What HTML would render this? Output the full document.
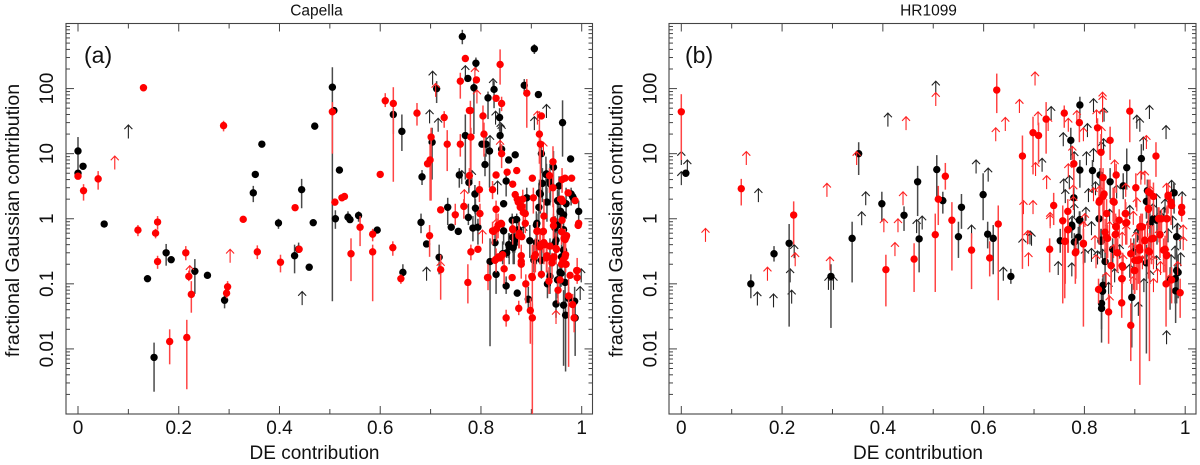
<!DOCTYPE html>
<html lang="en">
<head>
<meta charset="utf-8">
<title>DE contribution vs fractional Gaussian contribution</title>
<style>
html,body{margin:0;padding:0;background:#fff;}
svg{display:block;font-family:"Liberation Sans",Arial,sans-serif;}
</style>
</head>
<body>
<svg id="chart" xmlns="http://www.w3.org/2000/svg" width="1200" height="465" viewBox="0 0 1200 465"></svg>
<script>
const xTickValues = [0, 0.2, 0.4, 0.6, 0.8, 1];
const xTickLabels = ['0', '0.2', '0.4', '0.6', '0.8', '1'];
const xMinorValues = [0.1, 0.3, 0.5, 0.7, 0.9];
const yTickValues = [0.01, 0.1, 1, 10, 100];
const yTickLabels = ['0.01', '0.1', '1', '10', '100'];
const yDecades = [0.001, 0.01, 0.1, 1, 10, 100];
const yMinorMultipliers = [2, 3, 4, 5, 6, 7, 8, 9];

// each point: [DE contribution, fractional Gaussian contribution, lower error, upper error]
const capellaBlackPoints = [
[0,11,5.6,18],[0,5],[.01,6.4],[.052,.83],[.138,.12],[.175,.3,.19,.41],[.185,.235],[.151,.0074,.0022,.0125],
[.232,.156,.07,.24],[.257,.135],[.291,.056,.042,.07],[.348,2.5,1.8,3.2],[.352,4.8],[.365,14],[.398,.86,.7,1],
[.43,.27,.145,.4],[.438,.34,.3,.43],[.444,2.8,1.45,4.1],[.459,.18],[.467,.87],[.47,26.5],
[.505,105,.054,213],[.508,46],[.519,5.6],[.511,1,.7,1.35],[.536,1.06,.9,1.3],[.54,.97],[.557,1.12,.9,1.3],[.594,.67],
[.626,40,20,50],[.643,22,11,40],[.683,4.4,3.3,5.6],[.681,.88,.6,1.2],[.712,100,60,130],[.703,15,4,25],
[.734,1.5,.8,2.1],[.741,.74],[.755,.64],[.763,630,480,800],[.769,19,4,40],[.775,1.05,.8,1.7],[.757,4.7,3,6],
[.776,3.6,2.5,4.5],[.774,143],[.79,245,190,300],[.786,103,20,130],[.788,2.4,1.2,3.3],[.789,1.45,.7,2],[.784,.72,.45,1.1],[.794,.74,.4,1],
[.826,97,50,130],[.814,72,34,90],[.837,36,22,50],[.838,19,12,30],[.802,14],[.81,14,9,19],[.817,11,3,15],[.808,6.8,4.5,10],
[.841,11.7],[.855,8],[.868,9.6],[.85,3.8,2.2,5],[.845,1.7],[.862,.95,.7,1.2],[.871,.97,.7,1.2],[.886,112,85,140],[.906,410,340,480],
[.914,81],[.962,30,9,66],[.978,8.3],[.92,10,5,14],[.944,6.2,3,11],[.929,4.8,2,9],[.918,2.4,1.2,4],[.922,3.5,1.8,6],[.937,3.8,1.6,7],
[.955,3.2,2,4.5],[.979,2.4,1.6,3],[.982,2.2],[.952,1.9,1.1,2.8],[.969,1.7,1,3],[.958,1.3,.7,2.2],[.994,1.3,.9,1.9],[.931,1.8,.9,3],[.915,1.5,.8,3.5],[.891,2.1,1.3,3],
[.717,.256,.14,.4],[.645,.15,.12,.2],[.692,.41],[.818,.22,.011,.5],[.83,.14,.07,.25],[.828,.43,.25,.6],[.845,.65,.4,.9],[.843,.29,.2,.45],[.851,.3,.25,.4],
[.855,.4,.25,.6],[.866,.41,.2,.7],[.863,.52,.3,.8],[.85,.093,.07,.13],[.872,.072],[.894,.058,.04,.09],[.91,.43,.2,.7],[.911,.85,.5,1.2],
[.92,.23,.12,.35],[.905,.23,.15,.45],[.932,.1,.06,.16],[.937,.13,.07,.5],[.949,.47,.2,.8],[.952,.8,.4,1.4],[.952,.115,.06,.2],[.967,.105,.05,.2],[.959,.145,.09,.22],
[.949,.049,.03,.08],[.964,.047,.0055,.08],[.968,.033,.0045,.06],[.986,.054,.02,.09],[.987,.03,.0078,.05],[.974,.06,.03,.09],
[.954,1.85,1.2,2.6],[.983,2.1],[.93,4.9,2.5,7],[.938,3.4,1.8,5],[.916,2.5,1.4,4],[.957,1.3,.8,2],[.964,1.15],[.947,.72,.4,1.1],[.964,.68,.4,1],[.87,.97],[.875,.68,.4,1],[.867,.46,.3,.7],[.856,.37,.2,.6],[.864,.36,.2,.55],[.897,.46,.25,.8],[.91,.8,.5,1.3],[.924,.42,.25,.7],[.947,.42,.25,.65],[.964,.33,.2,.5],[.957,.15,.08,.25],[.96,.26,.15,.4]
];
const capellaRedPoints = [
[0,4.5],[.04,4.1,2.8,5.4],[.011,2.7,1.9,3.4],[.13,103],[.289,27,22,32],[.119,.67,.54,.8],[.158,.89,.68,1.1],[.154,.6,.5,.7],
[.158,.22,.17,.27],[.214,.3,.23,.38],[.22,.13,.11,.16],[.225,.069,.036,.11],[.297,.09,.07,.11],[.295,.072,.06,.09],[.182,.013,.0058,.02],[.216,.015,.0024,.028],
[.328,.98],[.356,.31,.24,.39],[.402,.215,.15,.28],[.431,1.48],[.439,.34],
[.505,44,10,62],[.51,1.8],[.524,2.1],[.529,2.2],[.56,.74,.38,1.1],[.585,.58,.45,.7],[.542,.29,.11,.5],[.585,.31,.054,.4],[.625,.36,.27,.45],[.641,.12,.1,.14],
[.698,.55,.26,.8],[.72,.165,.057,.28],[.774,.105,.05,.2],[.78,.31,.23,.4],[.794,.34],[.814,.125,.08,.2],[.83,.24,.15,.35],[.823,.65,.4,.9],[.831,.7,.45,1],[.84,.85],
[.835,.26],[.843,.28],[.846,.17,.1,.25],[.85,.03,.022,.04],[.875,.042,.033,.055],[.898,.039,.012,.06],[.902,.03,.001,.05],[.902,.125,.0115,.4],[.889,.1,.05,.14],
[.88,.27,.18,.4],[.88,.22],[.876,.6,.35,.9],[.863,.7],[.912,.65,.3,.9],[.923,.63,.3,1],[.908,.28,.15,.5],[.918,.4,.2,.7],[.925,.43,.2,.7],[.937,.38],[.949,.35,.2,.6],
[.931,.27,.15,.4],[.945,.26],[.941,.21,.12,.3],[.92,.14],[.935,.11,.07,.18],[.965,.5,.3,.7],[.97,.55],[.968,.28,.15,.45],[.963,.23],[.969,.2],[.953,.08,.05,.12],[.957,.115],
[.977,.135],[.991,.16,.1,.25],[.991,.125],[.974,.065,.0053,.12],[.982,.048,.03,.07],[.985,.03,.018,.05],[.994,.85],
[.769,290],[.838,235,115,400],[.759,130,70,175],[.791,136],[.83,71],[.841,59,45,75],[.891,85,25,140],[.777,46],[.779,46,5,65],[.804,38,19,55],[.806,20,9,30],[.78,18,5,25],
[.916,20,7,45],[.918,14,1.3,20],[.92,38],[.841,10,6,14],[.759,14,9,20],[.733,14,5.4,23],[.727,36,25,45],[.701,18,1.9,25],[.699,8,1.9,14],[.694,7],[.673,42,27,60],[.61,65,52,85],[.626,59,3.7,105],[.6,4.8],
[.777,4.6,3,6],[.83,4.7],[.852,5.2],[.871,5.5],[.797,2.8,1.8,3.8],[.823,2.8,2,3.8],[.766,1.55,1,2],[.798,1.2,.8,1.7],[.83,1.4,.9,1.9],[.749,1.15,.8,1.7],[.72,1.37],
[.863,3.4],[.868,2.35],[.883,2,1.3,2.8],[.874,1.8],[.878,1.5],[.884,1.25,.8,1.9],[.902,4.2],[.904,2.1,1.2,3],[.943,7.5,3.5,13],[.943,3,1.5,5],[.936,4.6,2.5,6],[.961,4,2.5,6],[.967,4.2],
[.98,4.2],[.973,2.5],[.958,2],[.962,1.85],[.987,1.9],[.925,1.1,.7,2],[.944,.95,.5,1.7],[.961,.95],[.888,.85,.6,1.3],[.863,.68,.4,1],[.841,.83],[.911,.64],[.924,.64],[.969,.52],
[.872,2],[.881,1.55],[.888,1.2,.8,1.7],[.96,2],[.944,.78,.5,1.2],[.96,.63,.4,1],[.967,.48,.3,.7],[.993,.79],[.875,.55,.35,.8],[.881,.53],[.834,.8,.5,1.2],[.825,.64],[.917,.37,.2,.6],[.95,.34],[.927,.4],[.906,.26,.12,.4],[.943,.25],[.967,.26],[.93,.25,.15,.4],[.828,.23],[.838,.25],[.96,.2],[.967,.2],[.99,.16],[.813,.125],[.862,.125],[.901,.13],[.88,.2,.12,.3]
];
const capellaBlackArrows = [
[.1,27.6],[.445,.076],[.704,185],[.698,47],[.715,35],[.769,225],[.824,142],[.829,45],[.839,30],[.841,28],[.818,19],[.906,37],[.93,57],[.762,5.5],[.782,5.5],[.833,3.8],[.692,.18],[.997,.091],[.999,.17],[.884,.76]
];
const capellaRedArrows = [
[.073,9.2],[.302,.34],[.222,.19],[.71,120],[.788,210],[.792,95],[.838,16],[.912,45],[.924,15],[.767,2.8],[.72,.22],[.803,.67],[.831,1],[.949,.039]
];

const hrBlackPoints = [
[.009,5],[.138,.1,.06,.14],[.184,.29,.22,.38],[.214,.42,.022,.83],[.297,.13,.021,.2],[.339,.5,.105,.9],[.352,10,4.7,15],[.398,1.7,.9,2.6],[.442,1.13,.65,1.55],[.469,3.7,1.1,6.5],[.472,.49,.15,.9],
[.507,5.7,1.9,9.5],[.519,1.9,1.2,2.6],[.556,1.5,.7,2.4],[.599,2.35,.95,5],[.55,.53,.25,.9],[.608,.58,.35,.9],[.619,.5,.14,.8],[.791,56,35,75],[.773,16,8,25],[.791,5.6,3,8],[.816,5.5,2.5,8],
[.779,2.1,1.4,3],[.831,4.7,2.2,6],[.851,3.7,2,6],[.884,6.1,2.8,12],[.913,8.4,4,14],[.877,3.2,2,5],[.925,2.7,1.3,4],[.923,1.85,1,3],[.978,2.5,1.2,3.6],[.937,1,.5,1.6],[.791,.97,.5,1.3],[.829,1,.5,1.6],[.775,.75,.5,1.1],
[.654,.13,.1,.17],[.752,.46,.3,.7],[.775,.8,.5,1.1],[.788,.52,.3,.75],[.78,.44,.3,.6],[.833,.47,.3,.7],[.856,.34,.2,.5],[.841,.22,.1,.35],[.836,.077,.05,.12],[.834,.05,.0125,.09],[.894,.062,.0105,.1],
[.923,.21,.0085,.4],[.93,.85,.3,1.4],[.983,.53,.25,.8],[.983,.16,.05,.3],[.986,.15,.06,.28],[.981,.078,.025,.14],[.97,.115,.04,.18],[.944,.95,.4,1.5],[.898,.31,.1,.5],
[.79,.95,.6,1.3],[.833,.45,.25,.7],[.937,1,.5,1.5],[.977,2.5,1.4,3.5],[.98,.12,.05,.2],[.837,.095,.05,.14],[.834,.042,.02,.07]
];
const hrRedPoints = [
[0,44,8,82],[.119,2.9,1.6,4.1],[.223,1.14,.4,1.85],[.406,.165,.045,.28],[.462,.24,.075,.42],
[.626,95,42,170],[.724,34,10,62],[.698,21,4.8,37],[.709,19,7,30],[.677,9.2,.17,19],[.76,42,25,55],[.79,30,15,40],[.826,25,10,35],[.779,7,3,10],[.833,10.5,2,20],[.851,16,8,26],[.89,45,15,68],[.942,9.2,4.4,15],
[.524,4.5,2.8,7.2],[.51,2,.8,3.2],[.537,.95,.16,1.8],[.504,.57,.075,1.2],[.629,.83,.056,1.6],[.739,1.6,.8,2.5],[.767,1.3,.4,2],[.757,.93,.05,1.6],[.837,4.3,1.3,6],[.863,4.7,2.5,7],[.902,3,1.5,5],[.93,2.5,1.2,4],[.937,2.2,1.1,3.6],
[.966,2.3,1.2,3.5],[.993,1.5,.9,2.2],[.972,1.8,.8,2.6],[.953,1,.5,1.4],[.964,1,.5,1.6],[.829,1.8,.4,3],[.837,2.2,.4,3.5],[.859,1.8,.8,3],[.844,1.2,.4,2],[.882,1.2,.7,1.8],[.869,.95,.5,1.4],[.91,.75,.3,1.1],[.927,1.4,.7,2.5],[.947,1,.5,1.5],[.863,.75,.4,1.1],[.882,.86,.4,1.2],[.768,.68,.3,1],
[.576,.33,.083,.6],[.612,.25,.13,.45],[.731,.34,.15,.5],[.761,.45,.06,.7],[.782,.3,.1,.45],[.798,.41,.022,.7],[.828,.082,.05,.12],[.848,.037,.012,.07],[.874,.051,.03,.08],[.874,.12,.06,.2],[.876,.18,.1,.3],[.892,.023,.0065,.05],[.853,.19,.08,.3],[.865,.3,.15,.5],
[.844,.52,.2,.8],[.862,.58,.3,.9],[.892,.29,.1,.5],[.904,.23,.08,.4],[.909,.235,.1,.4],[.9,.16,.07,.3],[.91,.33,.0028,.6],[.915,.75,.3,1.2],[.929,.31,.0065,.6],[.92,.47,.2,.8],[.933,.49,.2,.8],[.95,.57,.3,.9],[.96,.34,.15,.55],[.963,.28,.12,.5],[.962,.1,.022,.2],[.973,.115,.05,.18],[.99,.073,.03,.12],[.884,.87,.4,1.3],
[.767,.68,.3,1],[.762,.45,.1,.7],[.783,.31,.12,.5],[.798,.42,.2,.7],[.857,1.85,.9,3],[.881,1.2,.6,2],[.862,.76,.4,1.2],[.841,.62,.3,1],[.846,.5,.25,.8],[.861,.57,.3,.9],[.866,.3,.15,.5],[.912,.76,.4,1.2],[.927,2.6,1.3,4],[.927,1.45,.7,2.2],[.948,1,.5,1.5],[.963,1,.5,1.5],[.95,.57,.25,.9],[.937,.5,.2,.8],[.92,.46,.2,.8],[.909,.36,.15,.6],[.927,.32,.12,.5],[.957,.33,.15,.5],[.963,.27,.12,.45],[.9,.23,.1,.4],[.907,.23,.1,.4],[.875,.19,.08,.3],[.899,.16,.07,.25],[.875,.12,.05,.2],[.853,.19,.07,.3],[.83,1.9,1,3],[.839,2.4,1.2,4],[.966,2.2],[.973,1.6],[.993,1.25]
];
const hrBlackArrows = [
[0,10.8],[0,5.3],[.012,8],[.153,2.9],[.151,.075],[.183,.07],[.219,.08],[.216,.17],[.224,.4],[.292,.13],[.302,.13],[.358,1.28],[.366,2.6],[.41,42],[.467,.97],
[.505,130],[.585,8],[.609,6],[.716,8.5],[.734,53],[.758,21],[.759,4.1],[.762,2.8],[.78,10.7],[.806,29],[.818,70],[.804,10.7],[.818,12],[.839,50],[.834,15],[.838,17],[.904,39],[.91,35],[.929,55],[.962,27],[.917,18],[.973,3.9],[.994,2.6],[.96,2],[.943,2.4],[.822,3.7],[.808,2.9],[.803,1.5],[.776,1.1],[.576,.8],[.478,1.1],[.864,3.3],[.958,1.5],[.966,.7],[.814,.9],[.907,.75],[.692,.65],
[.639,.18],[.677,.5],[.695,.62],[.748,.22],[.775,.21],[.801,.34],[.814,.35],[.836,.34],[.848,.105],[.907,.052],[.918,.12],[.963,.019],[.943,.27],[.98,.38],[.991,.3],[.905,.7],[.87,.4],[.923,.28],
[.77,4.6],[.78,1.7],[.85,1.4],[.865,1],[.89,1.6],[.936,1.7],[.95,1.3],[.975,1.1],[.985,.85],[.99,.55],[.972,.28],[.93,.16],[.89,.2],[.86,.17],[.826,.32]
];
const hrRedArrows = [
[.048,.71],[.129,10.8],[.171,.18],[.226,.3],[.289,3.5],[.295,.26],[.348,10.8],[.402,1],[.43,1],[.424,.43],[.44,2.6],[.446,37],
[.505,87],[.702,180],[.671,68],[.643,36],[.624,25],[.708,44],[.728,36],[.703,7.3],[.725,4.6],[.785,46],[.768,35],[.824,47],[.836,88],[.836,78],[.836,49],[.798,25],[.834,26],[.923,19],[.776,13],[.768,7],[.778,3.3],[.86,8],[.818,3],[.698,1.9],[.679,1.9],[.732,1.25],[.688,.66],
[.882,3.5],[.912,5.4],[.92,5.4],[.963,3.5],[.904,2.1],[.93,3.2],[.897,1.3],[.883,.8],[.801,1.2],[.689,.3],[.687,.65],[.798,.9],[.843,.15],[.85,.065],[.937,.12],[.996,.8],[.996,.53],[.821,.55],[.902,.62],[.877,.28],[.823,.28],[.897,.13],[.937,.27],[.951,.22],[.96,.38],[.858,.4],
[.732,1.15],[.778,2.2],[.83,3.2],[.85,.9],[.875,.62],[.895,.42],[.915,.27],[.945,.17],[.97,.14],[.985,.22],[.948,.7],[.925,.85]
];

const NS = 'http://www.w3.org/2000/svg';
const root = document.getElementById('chart');

function make(parent, tag, attrs) {
  const el = document.createElementNS(NS, tag);
  for (const k in attrs) el.setAttribute(k, attrs[k]);
  parent.appendChild(el);
  return el;
}

function drawPanel(opts) {
  const g = make(root, 'g', {});
  
  

  const left = opts.left, right = opts.right, top = 23.5, bottom = 414;
  const xScale = v => opts.x0 + v * opts.xUnit;
  const yScale = v => bottom - (Math.log10(v) + 3) * (bottom - top) / 6;

  const clipId = 'clip-' + opts.name;
  const defs = make(g, 'defs', {});
  const clip = make(defs, 'clipPath', { id: clipId });
  make(clip, 'rect', { x: left, y: top, width: right - left, height: bottom - top });

  const frame = make(g, 'rect', { x: left, y: top, width: right - left, height: bottom - top, fill: 'none', stroke: '#444', 'stroke-width': 1.1 });
  
  

  const ticks = make(g, 'g', { stroke: '#444', 'stroke-width': 1 });
  
  
  const vTick = (v, len) => {
    const x = xScale(v);
    make(ticks, 'line', { x1: x, x2: x, y1: bottom, y2: bottom - len });
    make(ticks, 'line', { x1: x, x2: x, y1: top, y2: top + len });
  };
  const hTick = (v, len) => {
    const y = yScale(v);
    make(ticks, 'line', { x1: left, x2: left + len, y1: y, y2: y });
    make(ticks, 'line', { x1: right, x2: right - len, y1: y, y2: y });
  };
  xTickValues.forEach(v => vTick(v, 8));
  xMinorValues.forEach(v => vTick(v, 5));
  yTickValues.forEach(v => hTick(v, 8));
  hTick(1000, 8);
  yDecades.forEach(d => yMinorMultipliers.forEach(m => hTick(d * m, 4)));

  xTickValues.forEach((v, i) => {
    const t = make(g, 'text', { x: xScale(v), y: 434, 'text-anchor': 'middle', 'font-size': 19, fill: '#111' });
    t.textContent = xTickLabels[i];
    
    
  });
  yTickValues.forEach((v, i) => {
    const y = yScale(v);
    const t = make(g, 'text', { x: opts.yTickX, y: y, 'text-anchor': 'middle', 'font-size': 19, fill: '#111', transform: 'rotate(-90 ' + opts.yTickX + ' ' + y + ')' });
    t.textContent = yTickLabels[i];
    
    
  });

  const xTitle = make(g, 'text', { x: opts.xTitleX, y: 459, 'text-anchor': 'middle', 'font-size': 19, fill: '#111' });
  xTitle.textContent = 'DE contribution';
  
  

  const yMid = 220.5;
  const yTitle = make(g, 'text', { x: opts.yTitleX, y: yMid, 'text-anchor': 'middle', 'font-size': 19.5, fill: '#111', transform: 'rotate(-90 ' + opts.yTitleX + ' ' + yMid + ')' });
  yTitle.textContent = 'fractional Gaussian contribution';
  
  

  const title = make(g, 'text', { x: opts.titleX, y: 15.5, 'text-anchor': 'middle', 'font-size': 15.5, fill: '#111' });
  title.textContent = opts.title;
  
  

  const tag = make(g, 'text', { x: opts.tagX, y: 63, 'font-size': 23, fill: '#111' });
  tag.textContent = opts.tag;
  
  

  const marks = make(g, 'g', { 'clip-path': 'url(#' + clipId + ')' });
  
  

  const drawArrows = (arrows, color, label) => {
    arrows.forEach(a => {
      const x = xScale(a[0]), y = yScale(a[1]);
      const arrow = make(marks, 'path', {
        d: 'M' + x + ' ' + (y + 13.5) + 'V' + y + 'M' + (x - 4) + ' ' + (y + 4.2) + 'L' + x + ' ' + y + 'L' + (x + 4) + ' ' + (y + 4.2),
        fill: 'none', stroke: color, 'stroke-width': 1.1
      });
      
      
    });
  };
  const drawPoints = (points, color, barColor, label) => {
    points.forEach(p => {
      const x = xScale(p[0]);
      if (p.length > 2) {
        const bar = make(marks, 'line', { x1: x, x2: x, y1: yScale(p[2]), y2: yScale(p[3]), stroke: barColor, 'stroke-width': 1.5 });
        
        
      }
    });
    points.forEach(p => {
      const dot = make(marks, 'circle', { cx: xScale(p[0]), cy: yScale(p[1]), r: 3.7, fill: color });
      
      
    });
  };

  drawArrows(opts.blackArrows, '#222', 'black-limit-arrow');
  drawPoints(opts.blackPoints, '#000', '#4a4a4a', 'black');
  drawArrows(opts.redArrows, '#f22', 'red-limit-arrow');
  drawPoints(opts.redPoints, '#f00', '#f44', 'red');
}

drawPanel({
  name: 'capella', title: 'Capella', tag: '(a)',
  left: 66, right: 592.5, x0: 78, xUnit: 503.7,
  yTickX: 53, yTitleX: 19, xTitleX: 314.5, titleX: 316.5, tagX: 84,
  blackPoints: capellaBlackPoints, redPoints: capellaRedPoints,
  blackArrows: capellaBlackArrows, redArrows: capellaRedArrows
});
drawPanel({
  name: 'hr1099', title: 'HR1099', tag: '(b)',
  left: 669, right: 1196, x0: 681.3, xUnit: 503.9,
  yTickX: 656.7, yTitleX: 622.3, xTitleX: 918, titleX: 928.5, tagX: 685,
  blackPoints: hrBlackPoints, redPoints: hrRedPoints,
  blackArrows: hrBlackArrows, redArrows: hrRedArrows
});
</script>
</body>
</html>
